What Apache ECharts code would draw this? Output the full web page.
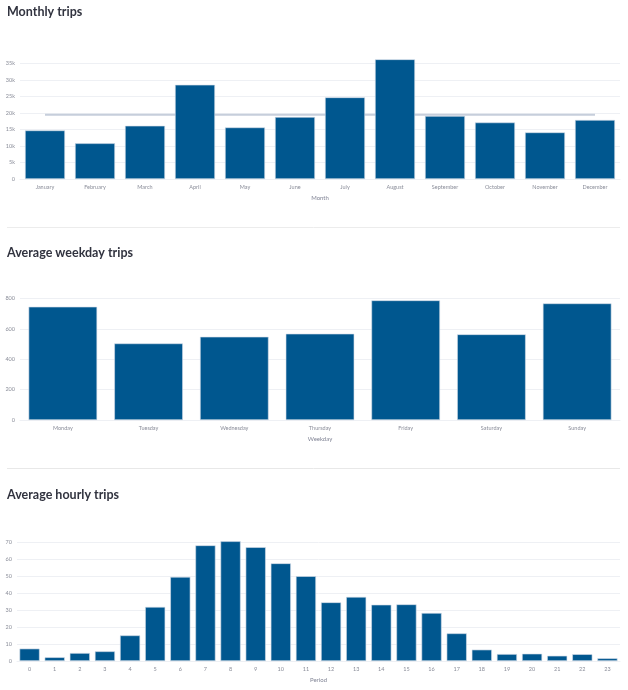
<!DOCTYPE html>
<html>
<head>
<meta charset="utf-8">
<script src="https://cdn.jsdelivr.net/npm/echarts@6/dist/echarts.min.js"></script>
<style>
html,body{margin:0;padding:0;background:#fff;}
#c{width:628px;height:690px;}
</style>
</head>
<body>
<div id="c"></div>
<script>
// ---- Data ----
const months = ['January','February','March','April','May','June','July','August','September','October','November','December'];
const monthlyTrips = [14700, 10800, 16100, 28500, 15600, 18750, 24700, 36200, 19050, 17100, 14100, 17850];

const weekdays = ['Monday','Tuesday','Wednesday','Thursday','Friday','Saturday','Sunday'];
const weekdayTrips = [747, 505, 549, 569, 789, 565, 769];

const hours = ['0','1','2','3','4','5','6','7','8','9','10','11','12','13','14','15','16','17','18','19','20','21','22','23'];
const hourlyTrips = [7.3, 2.2, 4.7, 5.7, 15.1, 31.9, 49.6, 68.2, 70.6, 67.1, 57.6, 50.0, 34.6, 37.8, 33.2, 33.4, 28.3, 16.3, 6.7, 4.1, 4.3, 3.1, 4.0, 1.6];

const monthlyMean = monthlyTrips.reduce((a,b)=>a+b,0) / monthlyTrips.length;

// ---- Styles ----
const FONT = 'Lato, "Noto Sans", sans-serif';
const BAR = '#00578f';
const labelStyle = {fontSize: 5.5, color: '#8a8d99', fontFamily: FONT};
const splitStyle = {lineStyle: {color: '#eef0f4', width: 1}};
const titleStyle = {fontSize: 12.5, fontWeight: 'bold', color: '#31333f', fontFamily: FONT};

function xAxis(idx, data, name){
  return {
    type: 'category', gridIndex: idx, data: data,
    name: name, nameLocation: 'middle', nameGap: 16,
    nameTextStyle: {fontSize: 6, color: '#808495', fontFamily: FONT},
    axisLine: {show: true, lineStyle: {color: '#eef0f4'}},
    axisTick: {show: false},
    axisLabel: Object.assign({margin: 5, interval: 0}, labelStyle)
  };
}
function yAxis(idx, max, interval, fmt){
  return {
    type: 'value', gridIndex: idx, min: 0, max: max, interval: interval,
    axisLine: {show: false}, axisTick: {show: false},
    splitLine: splitStyle,
    axisLabel: Object.assign({margin: 5, formatter: fmt}, labelStyle)
  };
}
function barSeries(idx, data){
  return {
    type: 'bar', xAxisIndex: idx, yAxisIndex: idx, data: data,
    barCategoryGap: '20%', clip: false, z: 3,
    itemStyle: {color: BAR, borderColor: '#d5dee9', borderWidth: 0.6},
    emphasis: {disabled: true}
  };
}

const chart = echarts.init(document.getElementById('c'), null, {renderer: 'canvas'});
chart.setOption({
  animation: false,
  backgroundColor: '#fff',
  title: [
    {text: 'Monthly trips', left: 7, top: 5.5, padding: 0, textStyle: titleStyle},
    {text: 'Average weekday trips', left: 7, top: 246.3, padding: 0, textStyle: titleStyle},
    {text: 'Average hourly trips', left: 7, top: 488, padding: 0, textStyle: titleStyle}
  ],
  graphic: [
    {type: 'line', shape: {x1: 7, y1: 227.5, x2: 620, y2: 227.5}, style: {stroke: '#ececec', lineWidth: 1}},
    {type: 'line', shape: {x1: 7, y1: 468.5, x2: 620, y2: 468.5}, style: {stroke: '#e8e8e8', lineWidth: 1}}
  ],
  grid: [
    {left: 20, width: 600, top: 63.3, height: 115.7},
    {left: 20, width: 600, top: 298.7, height: 121.3},
    {left: 17, width: 603, top: 542.3, height: 118.7}
  ],
  xAxis: [
    xAxis(0, months, 'Month'),
    xAxis(1, weekdays, 'Weekday'),
    xAxis(2, hours, 'Period')
  ],
  yAxis: [
    yAxis(0, 35000, 5000, v => v === 0 ? '0' : (v/1000) + 'k'),
    yAxis(1, 800, 200, v => String(v)),
    yAxis(2, 70, 10, v => String(v))
  ],
  series: [
    {
      type: 'line', xAxisIndex: 0, yAxisIndex: 0,
      data: months.map(() => monthlyMean),
      symbol: 'none', z: 1,
      lineStyle: {color: '#c6cedb', width: 2},
      emphasis: {disabled: true}
    },
    barSeries(0, monthlyTrips),
    barSeries(1, weekdayTrips),
    barSeries(2, hourlyTrips)
  ]
});
</script>
</body>
</html>
